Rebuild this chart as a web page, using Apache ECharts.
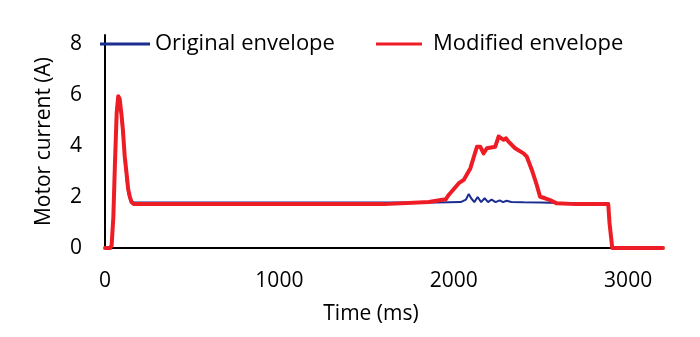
<!DOCTYPE html>
<html><head><meta charset="utf-8">
<script src="https://cdn.jsdelivr.net/npm/echarts@6/dist/echarts.min.js"></script>
<style>html,body{margin:0;padding:0;background:#fff}#c{width:700px;height:337px}</style>
</head><body><div id="c"></div>
<script>
const xTicks = [0, 1000, 2000, 3000];
const yTicks = [0, 2, 4, 6, 8];
const seriesNames = ['Original envelope', 'Modified envelope'];
const originalT = [0, 30, 40, 50, 58, 67, 76, 84, 95, 105, 115, 125, 135, 145, 155, 170, 200, 400, 800, 1200, 1600, 1900, 2040, 2070, 2086, 2100, 2118, 2137, 2157, 2177, 2197, 2217, 2240, 2263, 2283, 2303, 2330, 2400, 2500, 2600, 2800, 2886, 2893, 2909, 3200];
const originalV = [0, 0, 0.3, 1.5, 3.5, 5.4, 5.95, 5.8, 5.0, 4.2, 3.3, 2.6, 2.1, 1.85, 1.8, 1.78, 1.78, 1.78, 1.78, 1.78, 1.78, 1.78, 1.8, 1.9, 2.12, 1.95, 1.8, 2.0, 1.8, 1.95, 1.8, 1.9, 1.8, 1.87, 1.8, 1.85, 1.8, 1.79, 1.78, 1.76, 1.76, 1.76, 1.0, 0, 0];
const modifiedT = [0, 30, 38, 48, 57, 67, 76, 84, 95, 103, 113, 124, 133, 143, 152, 165, 200, 400, 800, 1200, 1600, 1857, 1954, 1971, 2029, 2057, 2095, 2133, 2152, 2171, 2190, 2238, 2257, 2286, 2300, 2314, 2352, 2400, 2419, 2448, 2476, 2495, 2524, 2552, 2590, 2700, 2886, 2893, 2909, 3200];
const modifiedV = [0, 0, 0.1, 1.23, 3.3, 5.3, 5.95, 5.85, 5.2, 4.6, 3.6, 2.9, 2.3, 2.0, 1.8, 1.72, 1.72, 1.72, 1.72, 1.72, 1.72, 1.8, 1.91, 2.08, 2.54, 2.67, 3.12, 3.97, 3.97, 3.71, 3.91, 3.97, 4.37, 4.24, 4.3, 4.17, 3.91, 3.71, 3.58, 3.06, 2.47, 2.01, 1.95, 1.88, 1.75, 1.72, 1.72, 1.0, 0, 0];

const font = 'Open Sans';
const fs = 21;
const zip = (a, b) => a.map((t, i) => [t, b[i]]);
const chart = echarts.init(document.getElementById('c'), null, {renderer: 'canvas'});
chart.setOption({
  animation: false,
  textStyle: {fontFamily: font},
  grid: {left: 105, right: 37, top: 35, bottom: 89, containLabel: false},
  legend: [
    {data: [seriesNames[0]], left: 100, top: 33, padding: 0, itemWidth: 50, itemHeight: 3, itemGap: 0,
     icon: 'rect', textStyle: {fontSize: 22, color: '#000', fontFamily: font}},
    {data: [seriesNames[1]], left: 376, top: 33, padding: 0, itemWidth: 46, itemHeight: 3, itemGap: 0,
     icon: 'rect', textStyle: {fontSize: 22, color: '#000', fontFamily: font, padding: [0, 0, 0, 6]}}
  ],
  xAxis: {
    type: 'value', min: 0, max: 3200, interval: 1000,
    name: 'Time (ms)', nameLocation: 'middle', nameGap: 56,
    nameTextStyle: {fontSize: fs, color: '#000', fontFamily: font, padding: [0, 26, 0, 0]},
    axisLine: {lineStyle: {color: '#000', width: 2}},
    axisTick: {show: false}, splitLine: {show: false},
    axisLabel: {fontSize: fs, color: '#000', margin: 23, showMaxLabel: false,
      formatter: v => xTicks.includes(v) ? String(v) : ''}
  },
  yAxis: {
    type: 'value', min: 0, max: 8.35, interval: 2,
    name: 'Motor current (A)', nameLocation: 'middle', nameGap: 50, nameRotate: 90,
    nameTextStyle: {fontSize: fs, color: '#000', fontFamily: font},
    axisLine: {show: true, lineStyle: {color: '#000', width: 2}},
    axisTick: {show: false}, splitLine: {show: false},
    axisLabel: {fontSize: fs, color: '#000', margin: 23, showMaxLabel: false,
      formatter: v => yTicks.includes(v) ? String(v) : ''}
  },
  series: [
    {name: seriesNames[0], type: 'line', data: zip(originalT, originalV), showSymbol: false,
     lineStyle: {color: '#1b2d8f', width: 2}, itemStyle: {color: '#1b2d8f'}, z: 2},
    {name: seriesNames[1], type: 'line', data: zip(modifiedT, modifiedV), showSymbol: false,
     lineStyle: {color: '#ee1c25', width: 4, join: 'round', cap: 'round'}, itemStyle: {color: '#ee1c25'}, z: 3}
  ]
});
</script></body></html>
